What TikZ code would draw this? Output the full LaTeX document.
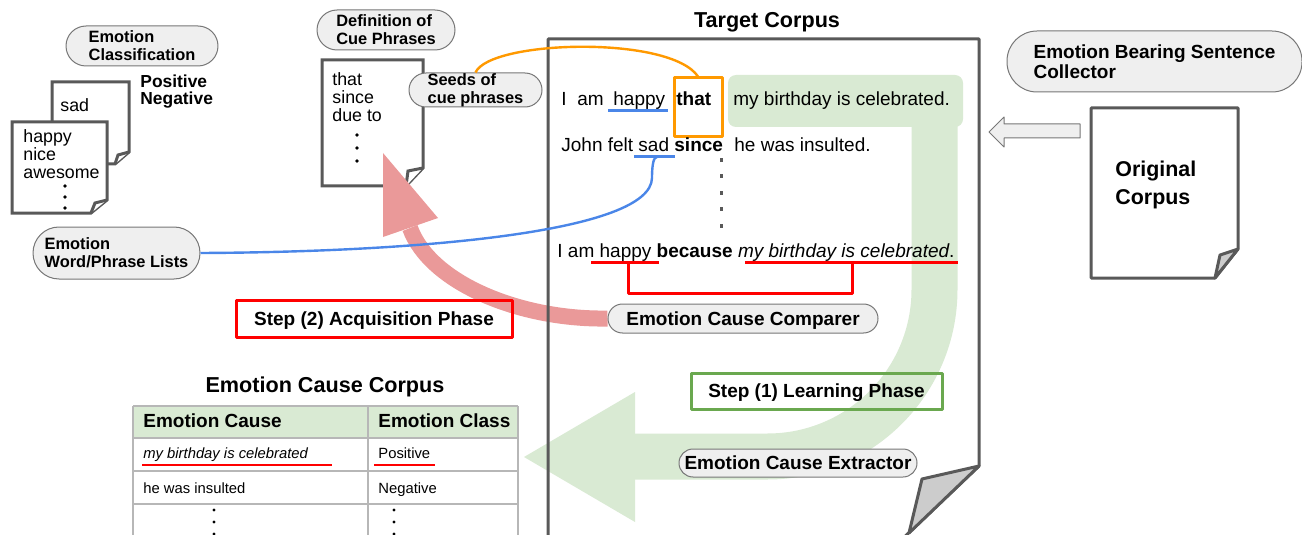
\documentclass[tikz,border=0pt]{standalone}
\usepackage{fontspec}
\setmainfont{Liberation Sans}
\usetikzlibrary{backgrounds}
\definecolor{docgray}{HTML}{595959}
\definecolor{pillfill}{HTML}{EFEFEF}
\definecolor{pillline}{HTML}{777777}
\definecolor{learngreen}{HTML}{D9EAD3}
\definecolor{stepgreen}{HTML}{6AA84F}
\definecolor{acqred}{HTML}{FF0000}
\definecolor{acqpink}{HTML}{EA9999}
\definecolor{wordblue}{HTML}{4A86E8}
\definecolor{cueorange}{HTML}{FF9900}
\definecolor{gridgray}{HTML}{B7B7B7}
\definecolor{flapgray}{HTML}{CCCCCC}
\tikzset{
  pill/.style={draw=pillline,fill=pillfill,line width=0.5pt,inner sep=0pt,align=left,font=\bfseries\fontsize{8.2}{9}\selectfont},
  bigpill/.style={pill,font=\bfseries\fontsize{9.5}{11}\selectfont},
  oneline/.style={text height=6.8pt,text depth=0pt},
  sheet/.style={draw=docgray,fill=white,line width=1.5pt},
  txt/.style={inner sep=0pt,anchor=base west,align=left,font=\fontsize{9.5}{11}\selectfont},
  listtxt/.style={txt,font=\fontsize{8.9}{9}\selectfont},
  celltxt/.style={txt,font=\fontsize{7.4}{9}\selectfont},
  heading/.style={inner sep=0pt,anchor=base,font=\bfseries\fontsize{10.8}{13}\selectfont},
  stepbox/.style={draw=#1,line width=1.5pt,inner sep=0pt,oneline,font=\bfseries\fontsize{9.5}{11}\selectfont},
  uline/.style={line width=1.5pt},
}
\begin{document}
\begin{tikzpicture}[x=0.5pt,y=-0.5pt,line join=round]
\useasboundingbox (0,0) rectangle (1302,535);
% target corpus sheet with folded corner
\draw[sheet,fill=none] (548,545) -- (548,39) -- (979,39) -- (979,466) -- (896,545);
\draw[sheet,fill=flapgray] (979,466) -- (922,479) -- (909,533) -- cycle;
\node[heading] (tc) at (767,28) {Target Corpus};
% original corpus (multi-line nodes sit on their last baseline)
\draw[sheet] (1091,108) -- (1238,108) -- (1238,249) -- (1215,278) -- (1091,278) -- cycle;
\draw[sheet,fill=flapgray] (1238,249) -- (1220,255) -- (1215,278) -- cycle;
\node[txt,font=\bfseries\fontsize{10.7}{14}\selectfont] (orig) at (1115,205) {Original\\Corpus};
\draw[draw=pillline,fill=pillfill,line width=0.5pt] (1080,124) -- (1004,124) -- (1004,117) -- (989,132) -- (1004,147) -- (1004,138) -- (1080,138) -- cycle;
% labels
\node[pill,rounded corners=10pt,minimum width=76pt,minimum height=20pt] (cls) at (142,46) {Emotion\\Classification};
\node[pill,rounded corners=10pt,minimum width=69pt,minimum height=20pt] (def) at (386,30) {Definition of\\Cue Phrases};
\node[pill,rounded corners=8.5pt,minimum width=66.5pt,minimum height=17pt] (seeds) at (475.5,90) {Seeds of\\cue phrases};
\node[pill,rounded corners=13pt,minimum width=83.5pt,minimum height=26pt] (wl) at (116.5,253) {Emotion\\Word/Phrase Lists};
\node[bigpill,font=\bfseries\fontsize{9.5}{8.3}\selectfont,rounded corners=15pt,minimum width=147.5pt,minimum height=30.5pt] (col) at (1154.5,61.5) {Emotion Bearing Sentence\\Collector};
\node[bigpill,oneline,rounded corners=7.25pt,minimum width=135pt,minimum height=14.5pt] (cmp) at (743,318.5) {Emotion Cause Comparer};
\node[bigpill,oneline,rounded corners=7pt,minimum width=119pt,minimum height=14pt] (ext) at (798,463) {Emotion Cause Extractor};
\node[stepbox=acqred,minimum width=138pt,minimum height=18.5pt] (acq) at (374,318.5) {Step (2) Acquisition Phase};
\node[stepbox=stepgreen,minimum width=125.5pt,minimum height=18pt] (learn) at (816.5,391) {Step (1) Learning Phase};
% word lists and cue phrases
\node[listtxt] (wsad) at (60,112) {sad};
\node[listtxt] (wpos) at (23,178) {happy\\nice\\awesome};
\foreach \y in {186,197,208} \fill (65,\y) circle (0.9pt);
\node[listtxt,font=\bfseries\fontsize{8.7}{9}\selectfont] (cls2) at (140,105) {Positive\\Negative};
\node[listtxt,font=\fontsize{8.9}{9.2}\selectfont] (cues) at (332,122) {that\\since\\due to};
\foreach \y in {135,148,161} \fill (357,\y) circle (0.9pt);
% sentences
\node[txt] (s1a) at (561,106) {I}; \node[txt] (s1b) at (577,106) {am}; \node[txt] (s1c) at (613,106) {happy};
\node[txt,font=\bfseries\fontsize{9.5}{11}\selectfont] (s1d) at (676,106) {that};
\node[draw=cueorange,line width=1.5pt,minimum width=24pt,minimum height=29.5pt,inner sep=0pt] (cuebox) at (698,107.5) {};
\node[txt] (s1e) at (733,106) {my birthday is celebrated.};
\node[txt] (s2a) at (561,152) {John felt sad \textbf{since}};
\node[txt] (s2b) at (734,152) {he was insulted.};
\foreach \y in {160,176,193,209,226} \fill[docgray] (719.5,\y-1.75) rectangle ++(3.5,3.5);
\node[txt] (s3) at (557,257) {I am happy \textbf{because} \textit{my birthday is celebrated}.};
\draw[uline,wordblue] (608,111) -- (668,111); \draw[uline,wordblue] (634,157) -- (675,157);
\coordinate (sad) at (657,157);
\draw[uline,acqred] (591,262) -- (659,262); \draw[uline,acqred] (745,262) -- (958,262);
\draw[uline,acqred] (628,262) -- (628,293) -- (852,293) -- (852,262);
% emotion cause corpus table
\node[heading] (ecc) at (325,392) {Emotion Cause Corpus};
\fill[learngreen] (133,406) rectangle (518,438);
\foreach \y in {406,438,471,504} \draw[gridgray,line width=0.75pt] (133,\y) -- (518,\y);
\foreach \x in {133,368,518} \draw[gridgray,line width=0.75pt] (\x,406) -- (\x,540);
\node[txt,font=\bfseries\fontsize{9.5}{11}\selectfont] (hcause) at (143,427) {Emotion Cause};
\node[txt,font=\bfseries\fontsize{9.5}{11}\selectfont] (hclass) at (378,427) {Emotion Class};
\node[celltxt] (cause1) at (143,458) {\itshape my birthday is celebrated}; \node[celltxt] (class1) at (378,458) {Positive};
\node[celltxt] (cause2) at (143,493) {he was insulted}; \node[celltxt] (class2) at (378,493) {Negative};
\draw[acqred,line width=1.3pt] (142,465) -- (332,465); \draw[acqred,line width=1.3pt] (374,465) -- (435,465);
\foreach \x in {214,394}{\foreach \y in {510,522,534} \fill (\x,\y) circle (0.8pt);}
% links to the lexicons
\draw[cueorange,line width=1.2pt] (seeds.north) .. controls (490,40) and (670,35) .. (cuebox.north);
\draw[wordblue,line width=1.2pt] (wl.east) .. controls (420,252) and (651,232) .. (652,178) .. controls (652,163) and (654,157) .. (sad);
\begin{scope}[on background layer]
\draw[sheet] (52,82) -- (129,82) -- (129,152) -- (115,164) -- (52,164) -- cycle;
\draw[sheet] (129,152) -- (118,155) -- (115,164);
\draw[sheet] (12,122) -- (107,122) -- (107,200) -- (91,213) -- (12,213) -- cycle;
\draw[sheet] (107,200) -- (95,203) -- (91,213);
\draw[sheet] (322,60) -- (423,60) -- (423,168) -- (406,186) -- (322,186) -- cycle;
\draw[sheet] (423,168) -- (408,171) -- (406,186);
\fill[white] (548,545) -- (548,39) -- (979,39) -- (979,466) -- (896,545) -- cycle;
% learning phase: green path out of the sentence
\draw[learngreen,line width=23pt,rounded corners=83.5pt] (934.5,110) -- (934.5,456.5) -- (630,456.5);
\fill[learngreen] (635,392) -- (524,457) -- (635,522) -- cycle;
\node[fill=learngreen,rounded corners=4pt,minimum width=117.5pt,minimum height=26pt,inner sep=0pt] (celeb) at (845.5,101) {};
% acquisition phase: back to the cue phrases
\draw[acqpink,line width=8pt] (cmp.west) .. controls (520,320) and (430,283) .. (410,228);
\fill[acqpink] (383,153) -- (383,237) -- (438,218) -- cycle;
\end{scope}
\end{tikzpicture}
\end{document}
